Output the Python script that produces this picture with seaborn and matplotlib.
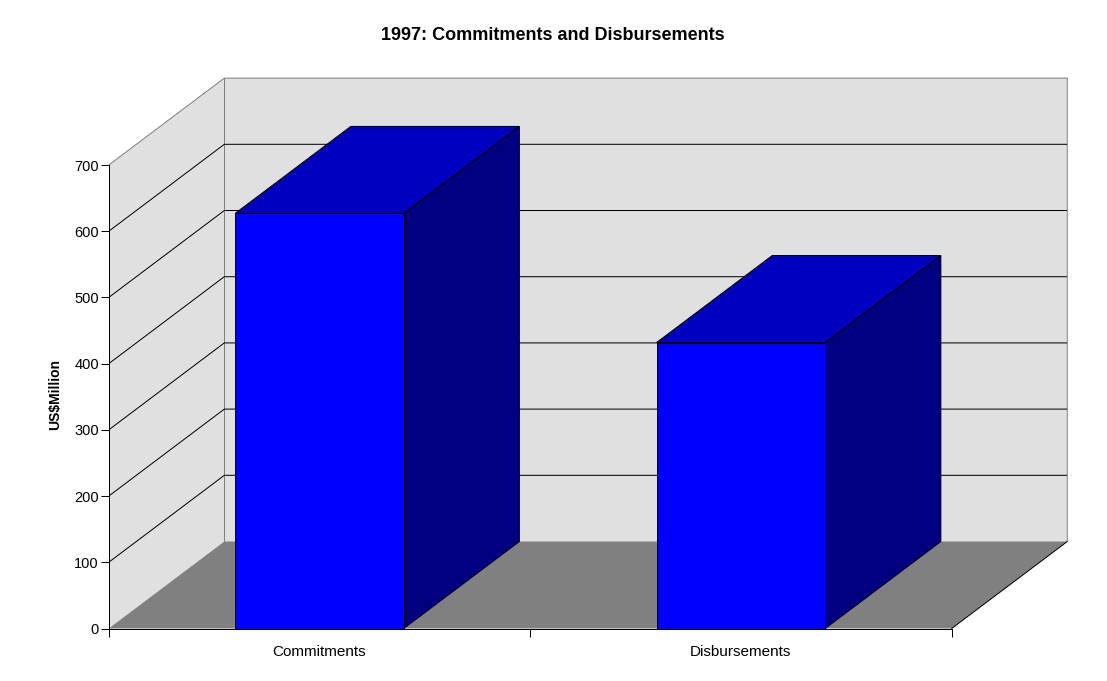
import seaborn as sns
import matplotlib.pyplot as plt
import pandas as pd
from matplotlib.patches import Polygon

# Data
categories = ["Commitments", "Disbursements"]
values = [627, 432]
y_ticks = [0, 100, 200, 300, 400, 500, 600, 700]

df = pd.DataFrame({"category": categories, "value": values})

sns.set_style("white")
plt.rcParams['font.family'] = ['Liberation Sans', 'DejaVu Sans']
plt.rcParams['text.color'] = 'black'
plt.rcParams['xtick.color'] = 'black'
plt.rcParams['ytick.color'] = 'black'

# colours of the old 3-D chart look
wall_color = '#e0e0e0'
floor_color = '#808080'
edge_gray = '#808080'
front_color = '#0000ff'
top_color = '#0000c0'
side_color = '#000080'

# depth offset of the 3-D box, in data units
dx = 0.2743
dy = 131.4
ymax = 700
x0, x1 = -0.5, 1.5
lw = 0.72

fig = plt.figure(figsize=(11.07, 6.81), dpi=100)
ax = fig.add_axes([0.09819, 0.07709, 0.86594, 0.80822])

# --- bars: front faces with seaborn ---
sns.barplot(data=df, x='category', y='value', color=front_color, saturation=1,
            width=0.4, edgecolor='black', linewidth=lw, ax=ax, zorder=6)
bars = list(ax.containers[0])

ax.set_xlim(x0, x1 + dx)
ax.set_ylim(0, ymax + dy)

# --- walls and floor ---
left_wall = Polygon([(x0, 0), (x0, ymax), (x0 + dx, ymax + dy), (x0 + dx, dy)],
                    closed=True, facecolor=wall_color, edgecolor='none', zorder=1)
back_wall = Polygon([(x0 + dx, dy), (x1 + dx, dy), (x1 + dx, ymax + dy), (x0 + dx, ymax + dy)],
                    closed=True, facecolor=wall_color, edgecolor='none', zorder=1)
floor = Polygon([(x0, 0), (x1, 0), (x1 + dx, dy), (x0 + dx, dy)],
                closed=True, facecolor=floor_color, edgecolor='none', zorder=2)
for poly in [left_wall, back_wall, floor]:
    ax.add_patch(poly)

# wall borders
ax.plot([x0, x0 + dx, x1 + dx, x1 + dx], [ymax, ymax + dy, ymax + dy, dy],
        color=edge_gray, lw=lw, zorder=3, clip_on=False)
ax.plot([x0 + dx, x0 + dx], [dy, ymax + dy], color=edge_gray, lw=lw, zorder=3)
ax.plot([x1, x1 + dx], [0, dy], color='black', lw=lw, zorder=3, clip_on=False)

# gridlines on the side and back walls
for v in y_ticks[1:-1]:
    ax.plot([x0, x0 + dx, x1 + dx], [v, v + dy, v + dy], color='black', lw=lw, zorder=3)

# top and side faces of each bar
for p in bars:
    bx, bw, bh = p.get_x(), p.get_width(), p.get_height()
    top = Polygon([(bx, bh), (bx + bw, bh), (bx + bw + dx, bh + dy), (bx + dx, bh + dy)],
                  closed=True, facecolor=top_color, edgecolor='black', lw=lw, zorder=5)
    side = Polygon([(bx + bw, 0), (bx + bw + dx, dy), (bx + bw + dx, bh + dy), (bx + bw, bh)],
                   closed=True, facecolor=side_color, edgecolor='black', lw=lw, zorder=5)
    ax.add_patch(top)
    ax.add_patch(side)

# --- axes, ticks and labels ---
for s in ['top', 'right']:
    ax.spines[s].set_visible(False)
ax.spines['left'].set_bounds(0, ymax)
ax.spines['bottom'].set_bounds(x0, x1)
for s in ['left', 'bottom']:
    ax.spines[s].set_color('black')
    ax.spines[s].set_linewidth(lw)
    ax.spines[s].set_zorder(7)

ax.set_yticks(y_ticks)
ax.set_yticklabels([str(v) for v in y_ticks], fontsize=10.5)
ax.tick_params(axis='y', direction='out', length=6, width=lw, pad=1, left=True)

ax.set_xticks([x0, 0.5, x1])
ax.set_xticklabels(['', '', ''])
ax.set_xticks(range(len(categories)), minor=True)
ax.set_xticklabels(categories, minor=True, fontsize=11)
ax.tick_params(axis='x', which='major', direction='out', length=6, width=lw, bottom=True)
ax.tick_params(axis='x', which='minor', length=0, pad=12)
ax.set_xlabel('')
ax.set_ylabel('')

fig.text(552.5 / 1107, 1 - 35 / 681, '1997: Commitments and Disbursements',
         ha='center', va='center', fontsize=13, fontweight='bold')
fig.text(55 / 1107, 1 - 395 / 681, 'US$Million', rotation=90,
         ha='center', va='center', fontsize=10, fontweight='bold')

plt.savefig('out.png', dpi=100)
